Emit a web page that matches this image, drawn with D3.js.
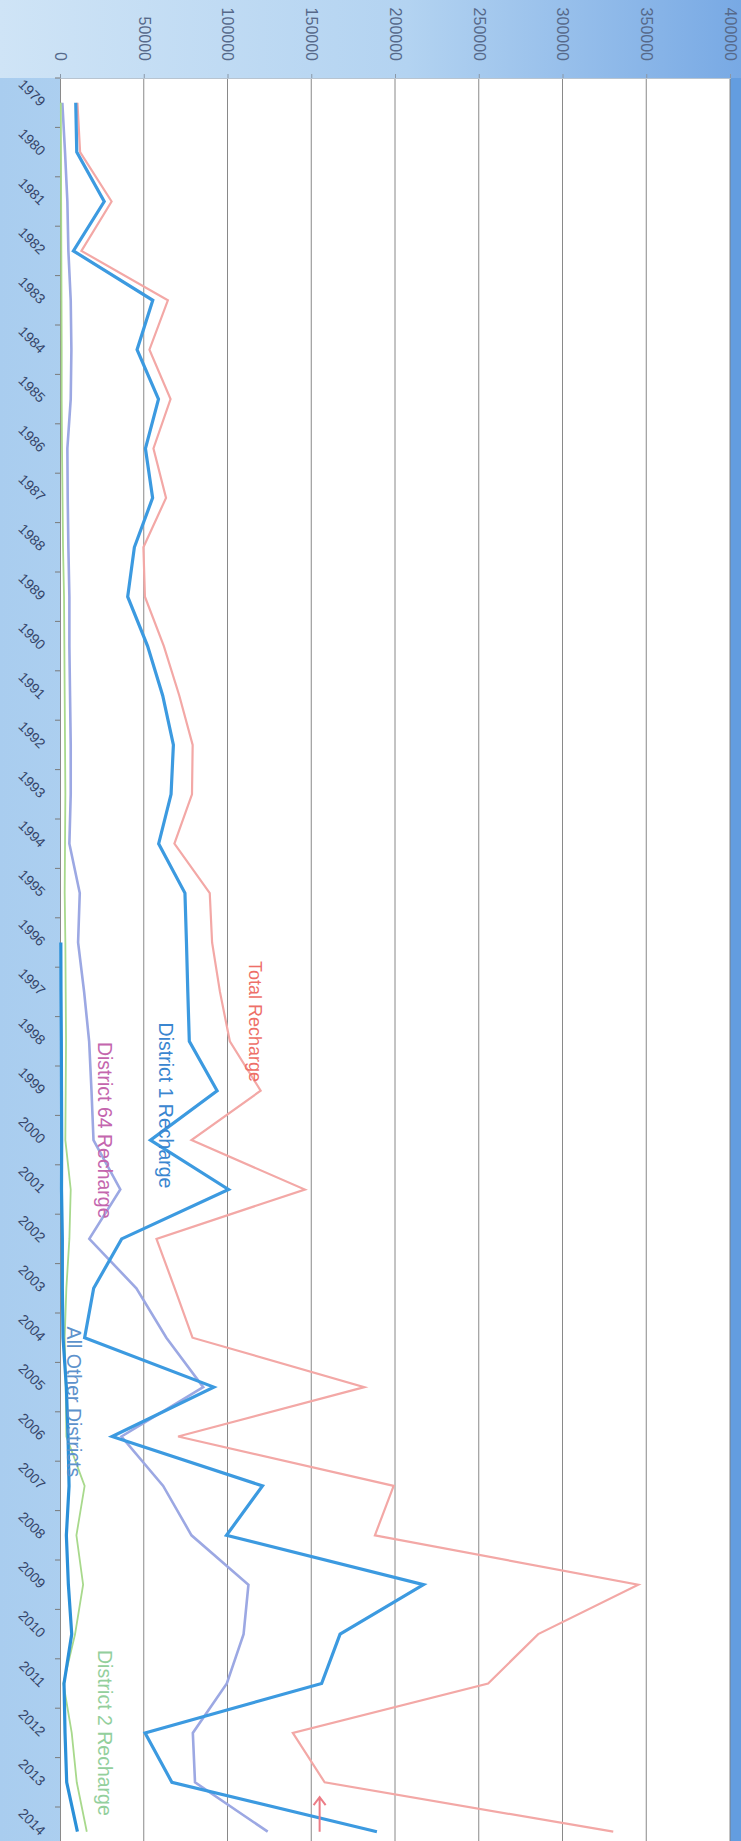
<!DOCTYPE html>
<html>
<head>
<meta charset="utf-8">
<script src="https://cdn.jsdelivr.net/npm/d3@7"></script>
<style>
  body { margin: 0; background: #bcd9f2; }
  svg { display: block; font-family: "Liberation Sans", Arial, sans-serif; }
</style>
</head>
<body>
<div id="chart-area"></div>
<script>
const years = [1979, 1980, 1981, 1982, 1983, 1984, 1985, 1986, 1987, 1988, 1989, 1990,
  1991, 1992, 1993, 1994, 1995, 1996, 1997, 1998, 1999, 2000, 2001, 2002,
  2003, 2004, 2005, 2006, 2007, 2008, 2009, 2010, 2011, 2012, 2013, 2014];

const valueTicks = [0, 50000, 100000, 150000, 200000, 250000, 300000, 350000, 400000];

const totalRecharge = [10400, 12000, 30800, 12800, 64400, 53400, 66000, 55800, 63300, 49800,
  50700, 62000, 71200, 79200, 78800, 68300, 89400, 90800, 95500, 101400,
  119800, 78500, 146200, 57600, 68500, 79100, 181700, 70500, 199200, 188000,
  345200, 285500, 255600, 139000, 158000, 330300];

const district1 = [9400, 10000, 26400, 8000, 55400, 46000, 58800, 51000, 55300, 44400,
  40400, 52300, 61300, 67700, 66300, 58900, 74600, 75500, 76300, 77200,
  93800, 54000, 100600, 36800, 20100, 14700, 91800, 31100, 120900, 99400,
  217000, 167200, 156200, 50800, 66800, 189200];

const district64 = [1400, 3000, 4400, 5000, 6400, 6800, 6400, 4400, 4600, 5000,
  5600, 5600, 6000, 6400, 6400, 5600, 11800, 10800, 14400, 17400,
  18800, 20000, 36000, 17500, 45600, 63500, 85500, 36700, 61600, 78500,
  112500, 109600, 99600, 79300, 80600, 124000];

const district2 = [500, 600, 700, 800, 900, 1000, 1000, 1200, 1500, 1800,
  2400, 2600, 2800, 3000, 3200, 3000, 2800, 3200, 3400, 3600,
  3400, 3200, 6400, 5600, 3800, 2800, 3400, 3800, 14700, 9800,
  13800, 9000, 2000, 7000, 10000, 16000];

const allOther = [null, null, null, null, null, null, null, null, null, null,
  null, null, null, null, null, null, null, 500, 600, 800,
  900, 1000, 900, 1400, 1400, 1800, 3800, 4800, 5400, 3800,
  5000, 7000, 2400, 3000, 4000, 10400];

const seriesNames = ["Total Recharge", "District 1 Recharge", "District 64 Recharge",
  "District 2 Recharge", "All Other Districts"];

const drawChart = () => {
  const chartSize = { width: 741, height: 1841 };
  const plot = { left: 60, right: 730, top: 78 };
  const step = 49.4;

  const svg = d3.select("#chart-area")
    .append("svg")
    .attr("width", chartSize.width)
    .attr("height", chartSize.height);

  const defs = svg.append("defs");
  const topGrad = defs.append("linearGradient").attr("id", "topGrad");
  topGrad.append("stop").attr("offset", "0%").attr("stop-color", "#cfe4f6");
  topGrad.append("stop").attr("offset", "55%").attr("stop-color", "#b3d3f1");
  topGrad.append("stop").attr("offset", "100%").attr("stop-color", "#78a9e4");
  const leftGrad = defs.append("linearGradient").attr("id", "leftGrad");
  leftGrad.append("stop").attr("offset", "0%").attr("stop-color", "#a9cdef");
  leftGrad.append("stop").attr("offset", "100%").attr("stop-color", "#c9e1f5");

  // background pieces
  svg.append("rect").attr("x", 0).attr("y", 0)
    .attr("width", chartSize.width).attr("height", chartSize.height)
    .attr("fill", "url(#leftGrad)");
  svg.append("rect").attr("x", 0).attr("y", 0)
    .attr("width", chartSize.width).attr("height", plot.top)
    .attr("fill", "url(#topGrad)");
  svg.append("rect").attr("x", plot.right).attr("y", plot.top)
    .attr("width", chartSize.width - plot.right).attr("height", chartSize.height)
    .attr("fill", "#639de0");
  svg.append("rect").attr("x", plot.left).attr("y", plot.top)
    .attr("width", plot.right - plot.left).attr("height", chartSize.height - plot.top)
    .attr("fill", "#ffffff");

  const x = d3.scaleLinear()
    .domain([0, 400000])
    .range([plot.left, plot.right]);

  const y = d3.scaleBand()
    .domain(years)
    .range([plot.top, plot.top + step * years.length])
    .padding(0);

  const yc = yr => y(yr) + y.bandwidth() / 2;

  // vertical gridlines
  svg.append("g")
    .selectAll("line")
    .data(valueTicks.slice(1))
    .enter()
    .append("line")
    .attr("x1", d => x(d)).attr("x2", d => x(d))
    .attr("y1", plot.top).attr("y2", chartSize.height)
    .attr("stroke", "#7c7c7c")
    .attr("stroke-width", 0.9);

  // value axis across the top (rotated labels)
  const xAxis = d3.axisTop(x).tickValues(valueTicks).tickSize(4).tickFormat(d3.format("d"));
  const gx = svg.append("g")
    .attr("class", "x-axis")
    .attr("transform", `translate(0, ${plot.top})`)
    .call(xAxis);
  gx.select(".domain").attr("stroke", "#b8c4d0");
  gx.selectAll(".tick line").attr("stroke", "#8a98a8");
  gx.selectAll(".tick text")
    .attr("x", -17)
    .attr("y", 0)
    .attr("dy", "0.35em")
    .attr("transform", "rotate(90)")
    .attr("text-anchor", "end")
    .attr("fill", "#56698a")
    .attr("font-size", 16);

  // year axis on the left
  const yAxis = d3.axisLeft(y).tickSize(0);
  const gy = svg.append("g")
    .attr("class", "y-axis")
    .attr("transform", `translate(${plot.left}, 0)`)
    .call(yAxis);
  gy.select(".domain").attr("stroke", "#8a8a8a");
  gy.selectAll(".tick text")
    .attr("x", 0)
    .attr("dy", "0.35em")
    .attr("transform", "translate(-17, 1) rotate(45)")
    .attr("text-anchor", "end")
    .attr("fill", "#36466a")
    .attr("font-size", 14);
  gy.selectAll(".boundary")
    .data(years)
    .enter()
    .append("line")
    .attr("class", "boundary")
    .attr("x1", -5).attr("x2", 0)
    .attr("y1", d => y(d)).attr("y2", d => y(d))
    .attr("stroke", "#7a7a7a");

  const line = d3.line()
    .defined(d => d != null)
    .x(d => x(d))
    .y((d, i) => yc(years[i]));

  const series = [
    { values: totalRecharge, color: "#f3a8a6", width: 2.2 },
    { values: district64, color: "#9ca8e3", width: 2.6 },
    { values: district1, color: "#3c9ae0", width: 3.2 },
    { values: district2, color: "#a8d98c", width: 1.8 },
    { values: allOther, color: "#2b90d8", width: 3.2 }
  ];

  svg.append("g")
    .selectAll("path")
    .data(series)
    .enter()
    .append("path")
    .attr("d", s => line(s.values))
    .attr("fill", "none")
    .attr("stroke", s => s.color)
    .attr("stroke-width", s => s.width)
    .attr("stroke-linejoin", "miter");

  // series labels, placed in data space
  const yAt = yr => yc(1979) + (yr - 1979) * step;
  const labels = [
    { text: seriesNames[0], v: 116500, yr: 1997.6, color: "#ee6f68", size: 18 },
    { text: seriesNames[1], v: 63000, yr: 1999.3, color: "#3a86d0", size: 19.5 },
    { text: seriesNames[2], v: 27000, yr: 1999.8, color: "#c466ae", size: 19.5 },
    { text: seriesNames[4], v: 8500, yr: 2005.3, color: "#5d92cc", size: 19.5 },
    { text: seriesNames[3], v: 27000, yr: 2012.0, color: "#93cf9c", size: 19.5 }
  ];
  svg.append("g")
    .selectAll("text")
    .data(labels)
    .enter()
    .append("text")
    .attr("transform", d => `translate(${x(d.v)}, ${yAt(d.yr)}) rotate(90)`)
    .attr("text-anchor", "middle")
    .attr("dy", "0.35em")
    .attr("fill", d => d.color)
    .attr("font-size", d => d.size)
    .text(d => d.text);

  // small hand-drawn arrow pointing at the 2013 total
  const ax = x(155000);
  const ay1 = yAt(2014.0);
  const ay2 = yAt(2013.3);
  svg.append("path")
    .attr("d", `M${ax},${ay1} L${ax},${ay2} M${ax - 6},${ay2 + 8} L${ax},${ay2} L${ax + 6},${ay2 + 8}`)
    .attr("fill", "none")
    .attr("stroke", "#ec7c86")
    .attr("stroke-width", 2);
};

window.onload = drawChart;
</script>
</body>
</html>
